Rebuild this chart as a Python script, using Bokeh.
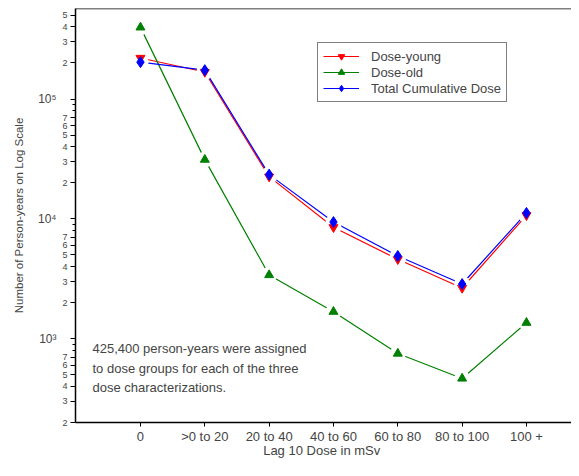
from bokeh.plotting import figure
from bokeh.models import FixedTicker, Label, Legend, LegendItem, Span, LogAxis
from bokeh.embed import file_html
from bokeh.resources import INLINE

# ---- data ----
categories = ["0", ">0 to 20", "20 to 40", "40 to 60", "60 to 80", "80 to 100", "100 +"]
xs = [0, 1, 2, 3, 4, 5, 6]
dose_young = [2.2e5, 1.68e5, 2.25e4, 8.5e3, 4.6e3, 2.65e3, 1.07e4]
dose_old = [3.96e5, 3.12e4, 3.4e3, 1.68e3, 752, 466, 1.36e3]
total_cum = [2.03e5, 1.74e5, 2.34e4, 9.4e3, 4.9e3, 2.86e3, 1.12e4]

# y tick labels
decades = [2, 3, 4, 5]
digit_labels = [2, 3, 4, 5, 6, 7]
top_digits = [2, 3, 4, 5]
powers = [3, 4, 5]
power_labels = {3: "10\u00b3", 4: "10\u2074", 5: "10\u2075"}

note_lines = ["425,400 person-years were assigned",
              "to dose groups for each of the three",
              "dose characterizations."]

FONT = "Liberation Sans"
x_start, x_end = -1.01, 6.70
y_start, y_end = 200, 5.69e5

p = figure(width=571, height=460, x_range=(x_start, x_end), y_range=(y_start, y_end),
           y_axis_type="log", output_backend="svg", toolbar_location=None,
           min_border_left=75, min_border_right=0, min_border_top=8, min_border_bottom=30)
p.outline_line_color = None
p.grid.visible = False
p.background_fill_color = "white"

# top border line only
p.add_layout(Span(location=y_end, dimension="width", line_color="black", line_width=1.5))

# ---- x axis ----
p.xaxis.ticker = FixedTicker(ticks=xs)
p.xaxis.major_label_overrides = {i: c for i, c in zip(xs, categories)}
p.xaxis.minor_tick_line_color = None
p.xaxis.major_tick_in = 0
p.xaxis.major_tick_out = 4
p.xaxis.axis_line_width = 1.5
p.xaxis.major_label_text_font = FONT
p.xaxis.major_label_text_font_size = "13px"
p.xaxis.major_label_standoff = 2
p.xaxis.axis_label = "Lag 10 Dose in  mSv"
p.xaxis.axis_label_text_font = FONT
p.xaxis.axis_label_text_font_size = "13px"
p.xaxis.axis_label_text_font_style = "normal"
p.xaxis.axis_label_standoff = -4

# ---- y axis: digits (inner axis) ----
y_ticks = []
for k in decades:
    digs = top_digits if k == 5 else digit_labels
    for d in digs:
        y_ticks.append(d * 10 ** k)
y_ticks += [10 ** k for k in powers]
y_minor = [d * 10 ** k for k in decades for d in (8, 9)]
ya = p.yaxis[0]
ya.ticker = FixedTicker(ticks=sorted(y_ticks), minor_ticks=y_minor)
overrides = {}
for t in y_ticks:
    s = str(int(t))
    overrides[int(t)] = "" if (s[0] == "1" and set(s[1:]) == {"0"}) else s[0]
ya.major_label_overrides = overrides
ya.major_tick_in = 0
ya.major_tick_out = 5
ya.minor_tick_in = 0
ya.minor_tick_out = 3
ya.axis_line_width = 1.5
ya.major_label_text_font = FONT
ya.major_label_text_font_size = "9px"
ya.major_label_standoff = 3

# ---- y axis: powers of ten (outer axis, carries the title) ----
yb = LogAxis(ticker=FixedTicker(ticks=[10 ** k for k in powers], minor_ticks=[]),
             major_label_overrides={10 ** k: power_labels[k] for k in powers})
yb.axis_line_color = None
yb.major_tick_line_color = None
yb.minor_tick_line_color = None
yb.major_tick_out = 0
yb.major_tick_in = 0
yb.major_label_standoff = 3
yb.major_label_text_font = FONT
yb.major_label_text_font_size = "12px"
yb.axis_label = "Number of Person-years on Log Scale"
yb.axis_label_text_font = FONT
yb.axis_label_text_font_size = "11.5px"
yb.axis_label_text_font_style = "normal"
yb.axis_label_standoff = 10
p.add_layout(yb, "left")

# ---- series ----
series = [
    ("Dose-young", dose_young, "#ff0000", "inverted_triangle", 9),
    ("Dose-old", dose_old, "#008000", "triangle", 9),
    ("Total Cumulative Dose", total_cum, "#0000ff", "diamond", 11),
]
lines = {}
for name, ys, col, mk, sz in series:
    lines[name] = p.line(xs, ys, line_color=col, line_width=1.2)
for name, ys, col, mk, sz in series:
    p.scatter(xs, ys, marker="circle", size=16, fill_color="white", line_color=None)
markers = {}
for name, ys, col, mk, sz in series:
    markers[name] = p.scatter(xs, ys, marker=mk, size=sz, fill_color=col, line_color=col)

legend = Legend(items=[LegendItem(label=name, renderers=[lines[name], markers[name]])
                       for name, _, _, _, _ in series],
                location=(242, 320))
legend.label_text_font = FONT
legend.label_text_font_size = "13px"
legend.glyph_width = 36
legend.glyph_height = 16
legend.label_height = 16
legend.label_standoff = 12
legend.padding = 5
legend.spacing = 0
legend.margin = 0
legend.border_line_color = "black"
legend.border_line_width = 1
legend.background_fill_alpha = 1
p.add_layout(legend)

for i, line_text in enumerate(note_lines):
    p.add_layout(Label(x=17, x_units="screen", y=74 - 19.5 * i, y_units="screen",
                       text=line_text, text_align="left", text_baseline="middle",
                       text_font=FONT, text_font_size="13px"))

open("out.html", "w").write(file_html(p, INLINE))
